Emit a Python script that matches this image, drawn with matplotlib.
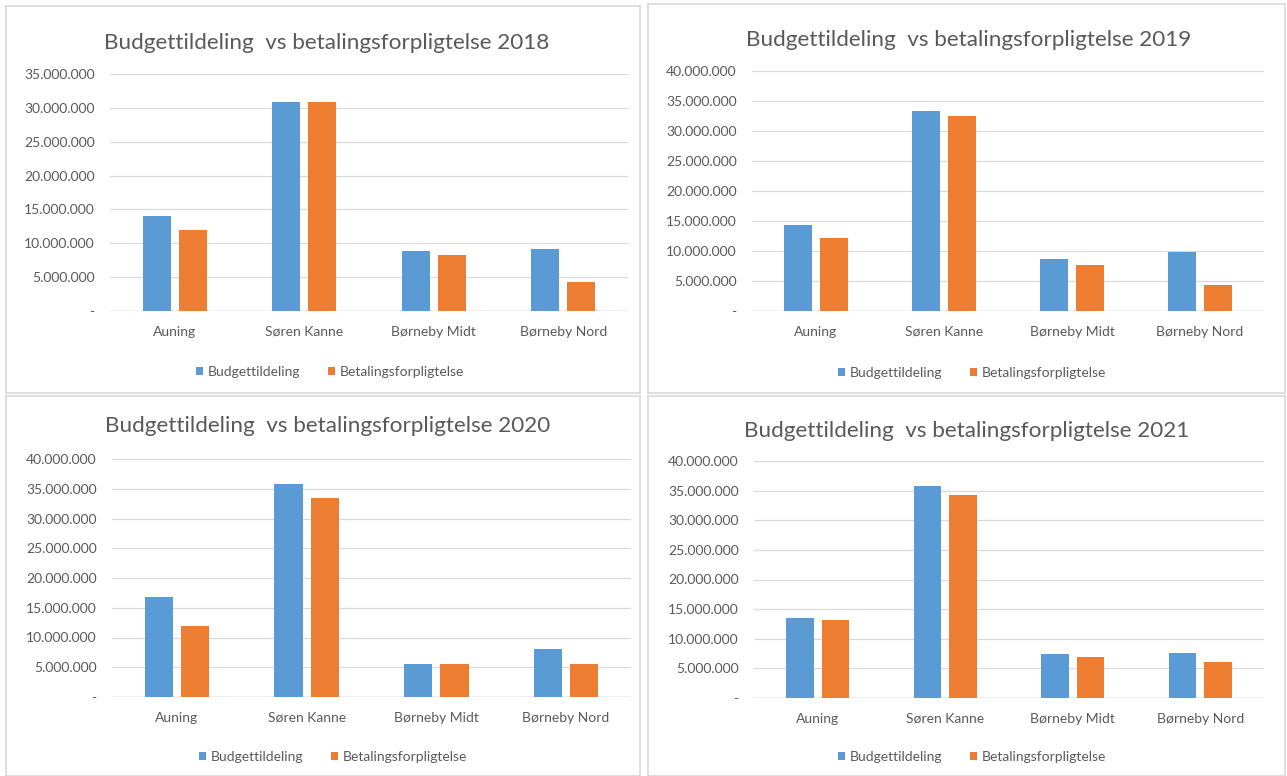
import matplotlib.pyplot as plt
from matplotlib.ticker import FuncFormatter, MultipleLocator
from matplotlib.lines import Line2D

plt.rcParams['font.family'] = ['Lato', 'DejaVu Sans']

categories = ["Auning", "Søren Kanne", "Børneby Midt", "Børneby Nord"]
years = [2018, 2019, 2020, 2021]

budget_2018 = [14100000, 30900000, 8900000, 9100000]
betaling_2018 = [11900000, 30900000, 8200000, 4300000]
budget_2019 = [14300000, 33400000, 8700000, 9900000]
betaling_2019 = [12100000, 32500000, 7600000, 4300000]
budget_2020 = [16800000, 35800000, 5500000, 8000000]
betaling_2020 = [11900000, 33400000, 5500000, 5500000]
budget_2021 = [13500000, 35800000, 7400000, 7600000]
betaling_2021 = [13200000, 34200000, 7000000, 6100000]

budgets = [budget_2018, budget_2019, budget_2020, budget_2021]
betalinger = [betaling_2018, betaling_2019, betaling_2020, betaling_2021]
ymax = [35000000, 40000000, 40000000, 40000000]

BLUE = "#5B9BD5"
ORANGE = "#ED7D31"
GREY = "#595959"

W, H = 1287, 776
fig = plt.figure(figsize=(W / 100, H / 100), dpi=100)
fig.patch.set_facecolor("white")

# panel boxes (pixel coords, y from top)
for x0, y0, x1, y1 in [(6, 6, 640, 393), (648, 4, 1285, 393),
                       (6, 396, 640, 776), (648, 396, 1285, 776)]:
    for xs, ys in [((x0, x1), (y0, y0)), ((x0, x1), (y1, y1)),
                   ((x0, x0), (y0, y1)), ((x1, x1), (y0, y1))]:
        fig.add_artist(Line2D([x / W for x in xs], [1 - y / H for y in ys],
                              color="#d9d9d9", lw=1.2))

# axes rects in pixels: left, right, top(value=ymax), bottom(0)
rects = [(110, 628, 74, 311), (752, 1264, 71, 311),
         (112, 631, 459, 697), (754, 1264, 461, 698)]
titles_xy = [(327, 43), (969, 40), (328, 426), (967, 431)]
legend_xy = [(330, 372), (972, 373), (333, 757), (972, 757)]


def dk_fmt(v, pos):
    if v == 0:
        return "-"
    return f"{int(v):,}".replace(",", ".")


x = range(len(categories))
for i in range(4):
    l, r, t, b = rects[i]
    ax = fig.add_axes([l / W, 1 - b / H, (r - l) / W, (b - t) / H])
    b1 = ax.bar([k - 0.14 for k in x], budgets[i], width=0.218, color=BLUE,
                label="Budgettildeling", zorder=3)
    b2 = ax.bar([k + 0.14 for k in x], betalinger[i], width=0.218, color=ORANGE,
                label="Betalingsforpligtelse", zorder=3)
    ax.set_xlim(-0.5, 3.5)
    ax.set_ylim(0, ymax[i])
    ax.yaxis.set_major_locator(MultipleLocator(5000000))
    ax.yaxis.set_major_formatter(FuncFormatter(dk_fmt))
    ax.grid(axis="y", color="#d9d9d9", lw=0.9, zorder=0)
    ax.axhline(0, color="#bfbfbf", lw=1.0, zorder=2)
    for s in ax.spines.values():
        s.set_visible(False)
    ax.set_xticks(list(x))
    ax.set_xticklabels(categories)
    ax.tick_params(axis="both", length=0, colors=GREY)
    ax.tick_params(axis="y", labelsize=10, pad=11)
    ax.tick_params(axis="x", labelsize=10, pad=10.5)

    tx, ty = titles_xy[i]
    fig.text(tx / W, 1 - ty / H, f"Budgettildeling  vs betalingsforpligtelse {years[i]}",
             ha="center", va="center", fontsize=16.2, color=GREY)

    lx, ly = legend_xy[i]
    ax.legend(handles=[b1, b2], loc="center", bbox_to_anchor=(lx / W, 1 - ly / H),
              bbox_transform=fig.transFigure, ncol=2, frameon=False, fontsize=10,
              handlelength=0.55, handleheight=0.55, handletextpad=0.35,
              columnspacing=1.95, labelcolor=GREY)

fig.savefig("out.png", dpi=100)
